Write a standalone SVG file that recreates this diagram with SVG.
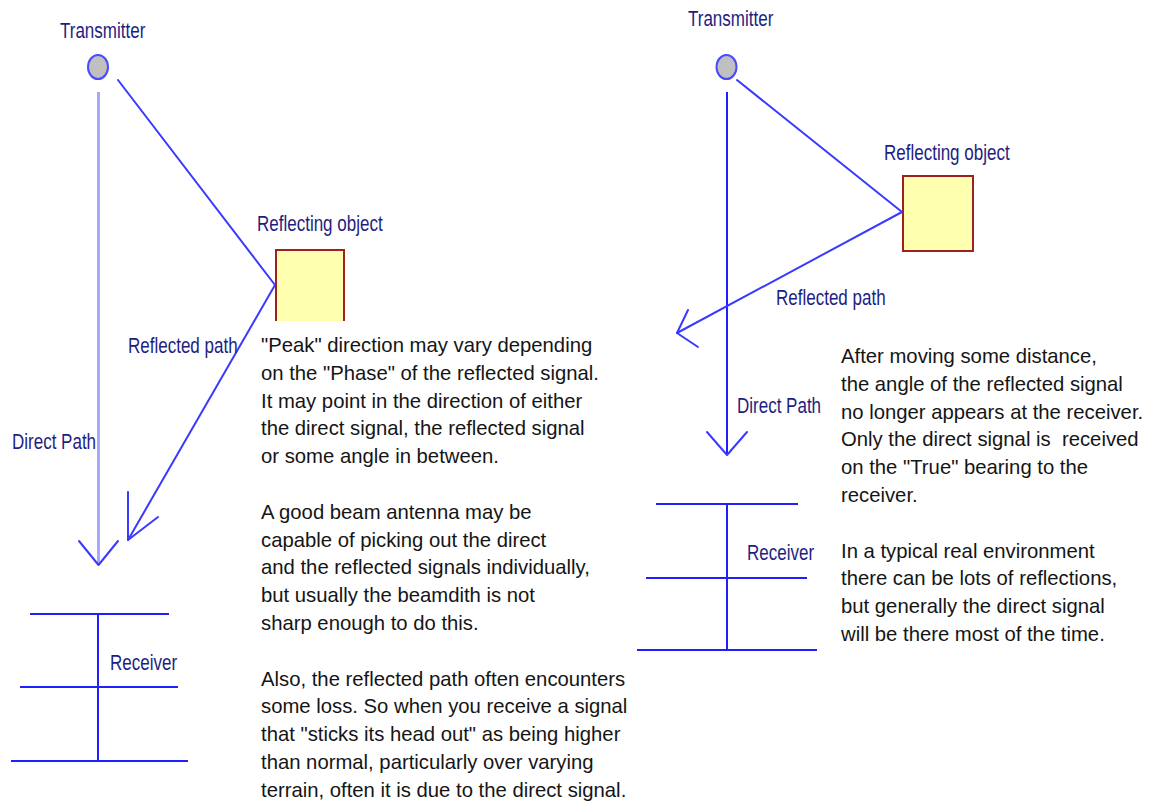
<svg xmlns="http://www.w3.org/2000/svg" width="1149" height="803" viewBox="0 0 1149 803">
<style>
.lbl{font-family:"Liberation Sans",Arial,sans-serif;font-size:17px;fill:#1e1e82}
.body{font-family:"Liberation Sans",Arial,sans-serif;font-size:20.3px;fill:#151515}
.tx{fill:#c0c0c0;stroke:#4a4aff;stroke-width:2}
.refl{fill:#ffffb0;stroke:none}
.reflb{fill:none;stroke:#a02020;stroke-width:2}
.ray{fill:none;stroke:#3a3aff;stroke-width:2;stroke-linecap:round;stroke-linejoin:round}
.dirL{fill:none;stroke:#a4a8ff;stroke-width:3}
.dirR{fill:none;stroke:#2020ff;stroke-width:2}
.rx{fill:none;stroke:#2020ff;stroke-width:2}
</style>
<rect width="1149" height="803" fill="#ffffff"/>

<!-- LEFT DIAGRAM -->
<g id="left-transmitter">
<ellipse class="tx" cx="98" cy="67" rx="10" ry="12"/>
<text class="lbl" transform="translate(60,38) scale(1,1.25)">Transmitter</text>
</g>
<g id="left-reflector">
<rect class="refl" x="276" y="250" width="68" height="71"/>
<path class="reflb" d="M276,321 V250 H344 V321"/>
<text class="lbl" transform="translate(257,231) scale(1,1.25)">Reflecting object</text>
</g>
<g id="left-receiver">
<path class="rx" d="M98,614 V761 M30,614 H169 M20,687 H178 M11,761 H188"/>
<text class="lbl" transform="translate(110,670) scale(1,1.25)">Receiver</text>
</g>
<g id="left-connectors">
<path class="dirL" d="M98.5,92 V564"/>
<path class="ray" d="M79,541 L98.5,565 L118,541"/>
<path class="ray" d="M118,80 L275,285 L128,540"/>
<path class="ray" d="M128,492 L128,540 L158,517"/>
<text class="lbl" transform="translate(12,449) scale(1,1.25)">Direct Path</text>
<text class="lbl" transform="translate(128,353) scale(1,1.25)">Reflected path</text>
</g>
<g id="left-note">
<text class="body" x="261" y="352">"Peak" direction may vary depending</text>
<text class="body" x="261" y="379.8">on the "Phase" of the reflected signal.</text>
<text class="body" x="261" y="407.6">It may point in the direction of either</text>
<text class="body" x="261" y="435.4">the direct signal, the reflected signal</text>
<text class="body" x="261" y="463.2">or some angle in between.</text>
<text class="body" x="261" y="518.8">A good beam antenna may be</text>
<text class="body" x="261" y="546.6">capable of picking out the direct</text>
<text class="body" x="261" y="574.4">and the reflected signals individually,</text>
<text class="body" x="261" y="602.2">but usually the beamdith is not</text>
<text class="body" x="261" y="630">sharp enough to do this.</text>
<text class="body" x="261" y="685.6">Also, the reflected path often encounters</text>
<text class="body" x="261" y="713.4">some loss. So when you receive a signal</text>
<text class="body" x="261" y="741.2">that "sticks its head out" as being higher</text>
<text class="body" x="261" y="769">than normal, particularly over varying</text>
<text class="body" x="261" y="796.8">terrain, often it is due to the direct signal.</text>
</g>

<!-- RIGHT DIAGRAM -->
<g id="right-transmitter">
<ellipse class="tx" cx="726.5" cy="67" rx="10" ry="12"/>
<text class="lbl" transform="translate(688,26) scale(1,1.25)">Transmitter</text>
</g>
<g id="right-reflector">
<rect class="refl" x="903" y="176" width="70" height="75"/>
<rect class="reflb" x="903" y="176" width="70" height="75"/>
<text class="lbl" transform="translate(884,160) scale(1,1.25)">Reflecting object</text>
</g>
<g id="right-receiver">
<path class="rx" d="M727,504 V650 M656,504 H798 M646,578 H807 M637,650 H817"/>
<text class="lbl" transform="translate(747,560) scale(1,1.25)">Receiver</text>
</g>
<g id="right-connectors">
<path class="dirR" d="M727,92 V454"/>
<path class="ray" d="M707,432 L727,455 L747,432"/>
<path class="ray" d="M737,80 L902,212 L677,333"/>
<path class="ray" d="M688,310 L677,333 L698,347"/>
<text class="lbl" transform="translate(737,413) scale(1,1.25)">Direct Path</text>
<text class="lbl" transform="translate(776,305) scale(1,1.25)">Reflected path</text>
</g>
<g id="right-note">
<text class="body" x="841" y="363">After moving some distance,</text>
<text class="body" x="841" y="390.8">the angle of the reflected signal</text>
<text class="body" x="841" y="418.6">no longer appears at the receiver.</text>
<text class="body" x="841" y="446.4" xml:space="preserve">Only the direct signal is  received</text>
<text class="body" x="841" y="474.2">on the "True" bearing to the</text>
<text class="body" x="841" y="502">receiver.</text>
<text class="body" x="841" y="557.6">In a typical real environment</text>
<text class="body" x="841" y="585.4">there can be lots of reflections,</text>
<text class="body" x="841" y="613.2">but generally the direct signal</text>
<text class="body" x="841" y="641">will be there most of the time.</text>
</g>
</svg>
